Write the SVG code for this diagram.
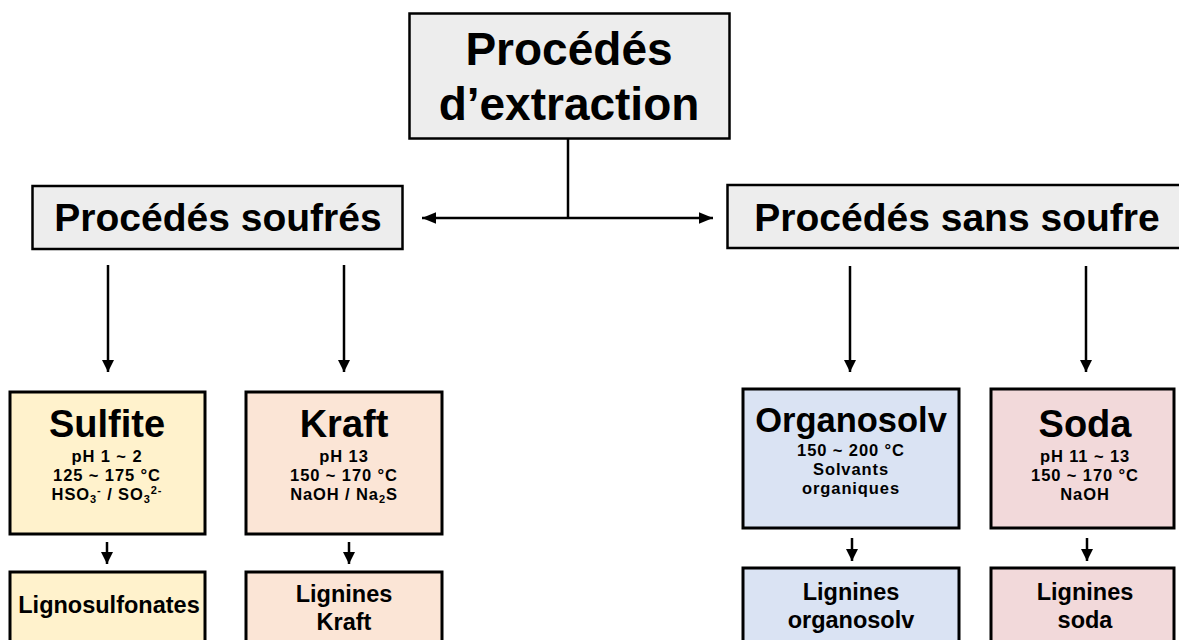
<svg xmlns="http://www.w3.org/2000/svg" width="1179" height="640" viewBox="0 0 1179 640">
<style>
text{font-family:"Liberation Sans",Arial,sans-serif;font-weight:bold;fill:#000;text-anchor:middle}
.box{stroke:#000;stroke-width:3}
.gray{fill:#ededed;stroke:#000;stroke-width:2.5}
.sul{fill:#fff2cc}
.kra{fill:#fbe5d6}
.org{fill:#dae3f3}
.sod{fill:#f2d9da}
.t1{font-size:46px}
.t2{font-size:39px}
.t3{font-size:38px}
.t4{font-size:34.5px}
.s{font-size:16.5px;letter-spacing:0.9px}
.sub{font-size:11px}
.l{font-size:23.5px}
.c{stroke:#000;stroke-width:2.5;fill:none}
</style>
<defs>
<marker id="ah" markerUnits="userSpaceOnUse" markerWidth="14" markerHeight="14" refX="12" refY="6" orient="auto-start-reverse" viewBox="0 0 12 12">
<path d="M0,1 L12,6 L0,11 Z" fill="#000"/>
</marker>
<marker id="ahs" markerUnits="userSpaceOnUse" markerWidth="12" markerHeight="12" refX="10" refY="5" orient="auto" viewBox="0 0 10 10">
<path d="M0,0 L10,5 L0,10 Z" fill="#000"/>
</marker>
</defs>
<rect width="1179" height="640" fill="#fff"/>
<g id="connectors">
<line class="c" x1="568" y1="139" x2="568" y2="218"/>
<line class="c" x1="422" y1="218" x2="713" y2="218" marker-start="url(#ah)" marker-end="url(#ah)"/>
<line class="c" x1="108" y1="265" x2="108" y2="372" marker-end="url(#ahs)"/>
<line class="c" x1="344" y1="265" x2="344" y2="372" marker-end="url(#ahs)"/>
<line class="c" x1="850" y1="266" x2="850" y2="372" marker-end="url(#ahs)"/>
<line class="c" x1="1086" y1="266" x2="1086" y2="372" marker-end="url(#ahs)"/>
<line class="c" x1="107" y1="542" x2="107" y2="564" marker-end="url(#ahs)"/>
<line class="c" x1="349" y1="542" x2="349" y2="564" marker-end="url(#ahs)"/>
<line class="c" x1="852" y1="538" x2="852" y2="561" marker-end="url(#ahs)"/>
<line class="c" x1="1087" y1="538" x2="1087" y2="561" marker-end="url(#ahs)"/>
</g>
<g id="extraction">
<rect class="gray" x="409.5" y="13.5" width="320" height="125"/>
<text class="t1" x="569" y="65">Procédés</text>
<text class="t1" x="569" y="120">d’extraction</text>
</g>
<g id="soufres">
<rect class="gray" x="32.5" y="186" width="370" height="63"/>
<text class="t2" x="218" y="231">Procédés soufrés</text>
</g>
<g id="sans-soufre">
<rect class="gray" x="727.5" y="185" width="470" height="63"/>
<text class="t2" x="957" y="231">Procédés sans soufre</text>
</g>
<g id="sulfite">
<rect class="box sul" x="10" y="392" width="195" height="142"/>
<text class="t3" x="107" y="437">Sulfite</text>
<text class="s" x="107" y="462">pH 1 ~ 2</text>
<text class="s" x="107" y="481">125 ~ 175 °C</text>
<text class="s" x="107" y="500">HSO<tspan class="sub" dy="3">3</tspan><tspan class="sub" dy="-9">-</tspan><tspan dy="6"> / SO</tspan><tspan class="sub" dy="3">3</tspan><tspan class="sub" dy="-9">2-</tspan></text>
</g>
<g id="kraft">
<rect class="box kra" x="246" y="392" width="196" height="142"/>
<text class="t3" x="344" y="437">Kraft</text>
<text class="s" x="344" y="462">pH 13</text>
<text class="s" x="344" y="481">150 ~ 170 °C</text>
<text class="s" x="344" y="500">NaOH / Na<tspan class="sub" dy="3">2</tspan><tspan dy="-3">S</tspan></text>
</g>
<g id="organosolv">
<rect class="box org" x="743" y="389" width="216" height="139"/>
<text class="t4" x="851" y="432">Organosolv</text>
<text class="s" x="851" y="456">150 ~ 200 °C</text>
<text class="s" x="851" y="475">Solvants</text>
<text class="s" x="851" y="494">organiques</text>
</g>
<g id="soda">
<rect class="box sod" x="991" y="389" width="183" height="139"/>
<text class="t3" x="1085" y="437">Soda</text>
<text class="s" x="1085" y="462">pH 11 ~ 13</text>
<text class="s" x="1085" y="481">150 ~ 170 °C</text>
<text class="s" x="1085" y="500">NaOH</text>
</g>
<g id="lignosulfonates">
<rect class="box sul" x="10" y="572" width="195" height="80"/>
<text class="l" x="109" y="613">Lignosulfonates</text>
</g>
<g id="lignines-kraft">
<rect class="box kra" x="246" y="572" width="196" height="80"/>
<text class="l" x="344" y="602">Lignines</text>
<text class="l" x="344" y="630">Kraft</text>
</g>
<g id="lignines-organosolv">
<rect class="box org" x="743" y="568" width="216" height="84"/>
<text class="l" x="851" y="600">Lignines</text>
<text class="l" x="851" y="628">organosolv</text>
</g>
<g id="lignines-soda">
<rect class="box sod" x="991" y="568" width="183" height="84"/>
<text class="l" x="1085" y="600">Lignines</text>
<text class="l" x="1085" y="628">soda</text>
</g>
</svg>
